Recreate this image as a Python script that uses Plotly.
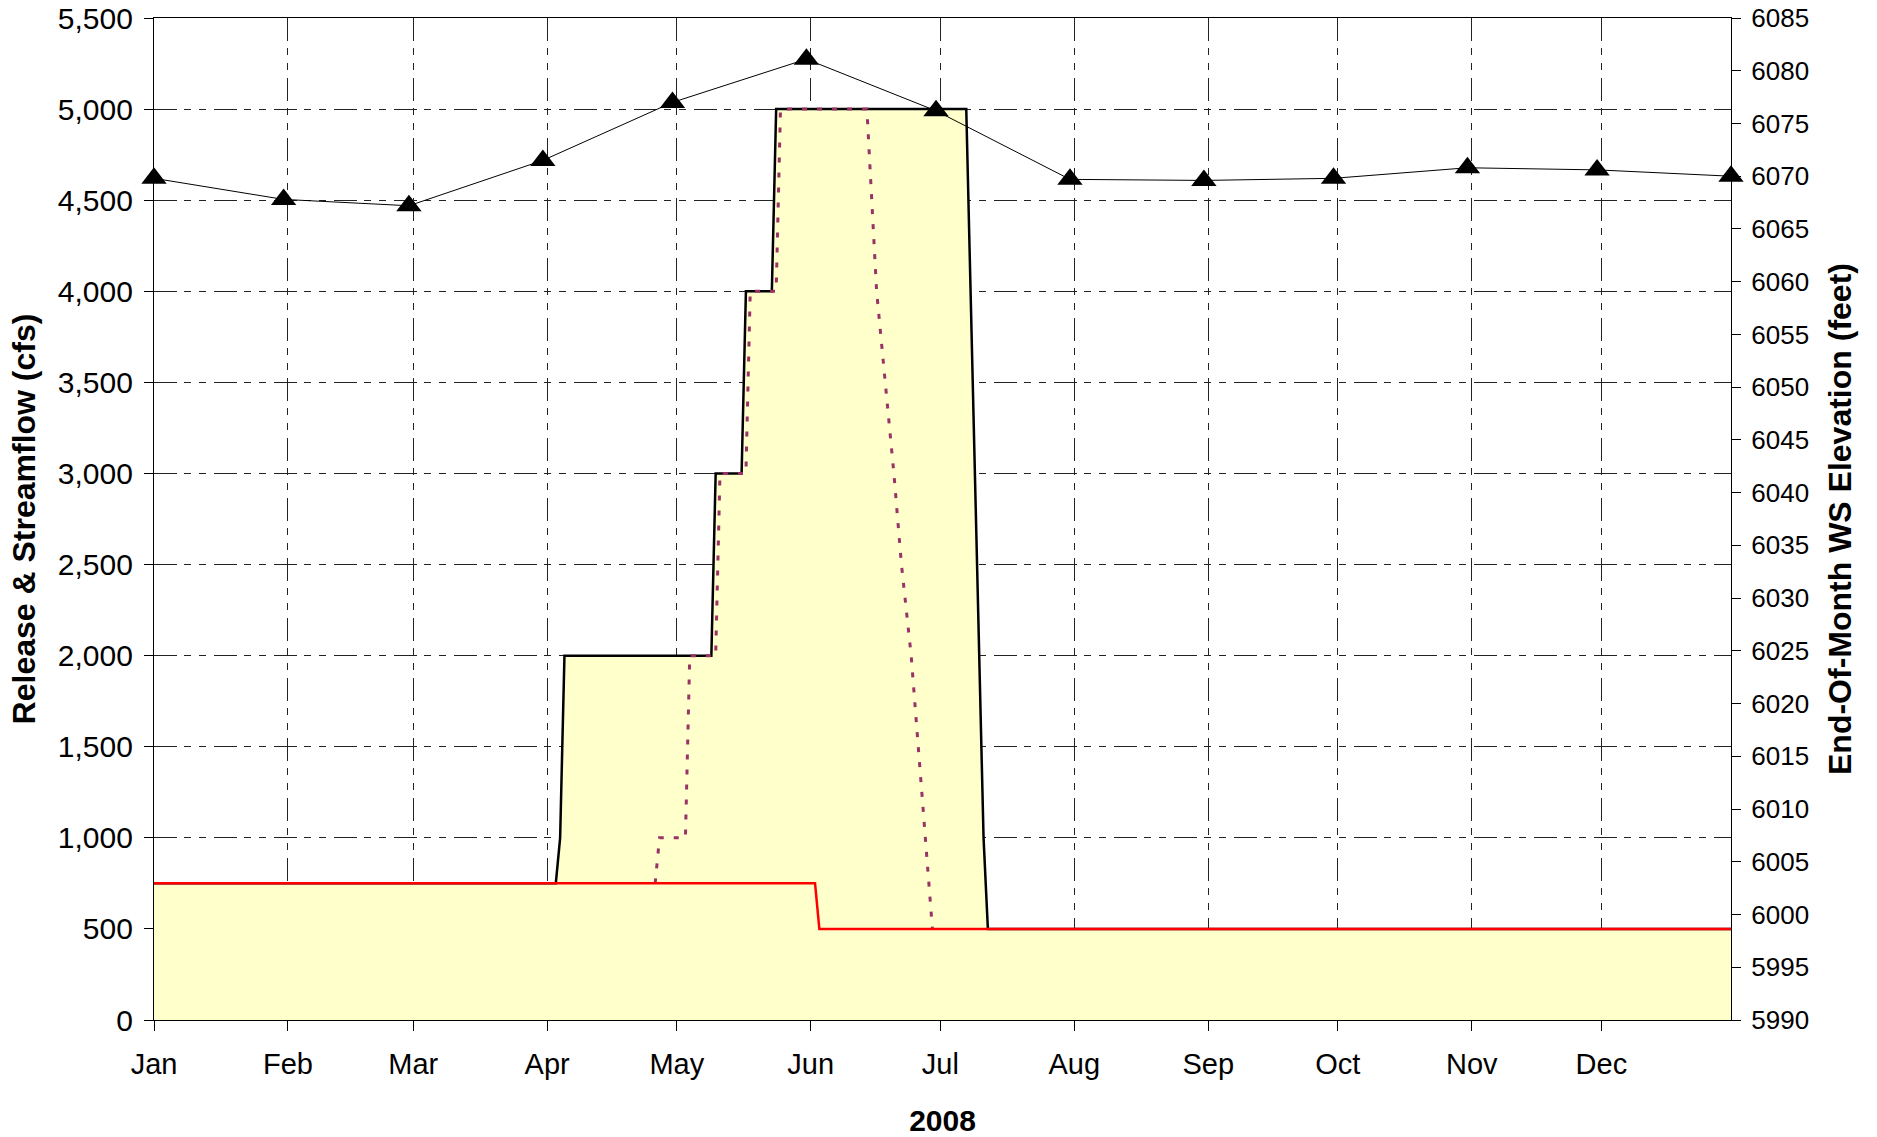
import plotly.graph_objects as go

# ---------------- data ----------------
month_starts = ["2008-01-01", "2008-02-01", "2008-03-01", "2008-04-01", "2008-05-01", "2008-06-01",
                "2008-07-01", "2008-08-01", "2008-09-01", "2008-10-01", "2008-11-01", "2008-12-01"]
month_labels = ["Jan", "Feb", "Mar", "Apr", "May", "Jun", "Jul", "Aug", "Sep", "Oct", "Nov", "Dec"]

release_dates = ["2008-01-01", "2008-04-03", "2008-04-04", "2008-04-05", "2008-05-09", "2008-05-10",
                 "2008-05-16", "2008-05-17", "2008-05-23", "2008-05-24", "2008-07-07", "2008-07-11",
                 "2008-07-12", "2008-12-31"]
release_cfs = [750, 750, 1000, 2000, 2000, 3000, 3000, 4000, 4000, 5000, 5000, 1000, 500, 500]

streamflow_dates = ["2008-04-26", "2008-04-27", "2008-05-03", "2008-05-04", "2008-05-10",
                    "2008-05-11", "2008-05-17", "2008-05-18", "2008-05-24", "2008-05-25", "2008-06-14",
                    "2008-06-16 06:00", "2008-06-20 06:00", "2008-06-22 00:00", "2008-06-24 06:00",
                    "2008-06-25 20:00", "2008-06-27 10:00", "2008-06-29 04:00"]
streamflow_cfs = [750, 1000, 1000, 2000, 2000, 3000, 3000, 4000, 4000, 5000, 5000,
                  4000, 3000, 2500, 2000, 1500, 1000, 500]

min_flow_dates = ["2008-01-01", "2008-06-02", "2008-06-03", "2008-12-31"]
min_flow_cfs = [750, 750, 500, 500]

eom_dates = ["2008-01-01", "2008-01-31", "2008-02-29", "2008-03-31", "2008-04-30", "2008-05-31",
             "2008-06-30", "2008-07-31", "2008-08-31", "2008-09-30", "2008-10-31", "2008-11-30",
             "2008-12-31"]
eom_elev_ft = [6069.8, 6067.8, 6067.2, 6071.5, 6077.0, 6081.1, 6076.2, 6069.7, 6069.6, 6069.8,
               6070.8, 6070.6, 6070.0]

# ---------------- styling ----------------
FONT = "Liberation Sans, Arial, Helvetica, sans-serif"
GRID_DASH = "23px,7px,7px,8px,7px,8px"

fig = go.Figure()

fig.add_trace(go.Scatter(
    x=release_dates, y=release_cfs, mode="lines", name="Release",
    line=dict(color="black", width=2.5), fill="tozeroy", fillcolor="#FFFFCC",
    yaxis="y"))

fig.add_trace(go.Scatter(
    x=streamflow_dates, y=streamflow_cfs, mode="lines", name="Streamflow",
    line=dict(color="#993366", width=3, dash="5px,10px"), yaxis="y"))

fig.add_trace(go.Scatter(
    x=min_flow_dates, y=min_flow_cfs, mode="lines", name="Minimum",
    line=dict(color="#FF0000", width=2.5), yaxis="y"))

fig.add_trace(go.Scatter(
    x=eom_dates, y=eom_elev_ft, mode="lines+markers", name="EOM Elevation",
    line=dict(color="black", width=1),
    marker=dict(symbol="triangle-up", size=22, color="black"),
    yaxis="y2", cliponaxis=False))

fig.update_layout(
    width=1877, height=1137,
    margin=dict(l=154, r=146, t=18, b=117, autoexpand=False),
    paper_bgcolor="white", plot_bgcolor="white",
    showlegend=False,
    font=dict(family=FONT, color="black"),
    xaxis=dict(
        type="date", range=["2008-01-01", "2008-12-31"], automargin=False,
        tickmode="array", tickvals=month_starts, ticktext=month_labels,
        ticks="outside", ticklen=10, tickcolor="black", tickwidth=1,
        tickfont=dict(size=29, family=FONT), ticklabelstandoff=8,
        showline=True, linecolor="black", linewidth=1.3, mirror=True,
        showgrid=True, gridcolor="#222222", gridwidth=1, griddash=GRID_DASH,
        zeroline=False,
        title=dict(text="<b>2008</b>", font=dict(size=30, family=FONT), standoff=32),
    ),
    yaxis=dict(
        range=[0, 5500], dtick=500, tickformat=",d", automargin=False,
        ticks="outside", ticklen=9, tickcolor="black", tickwidth=1,
        tickfont=dict(size=30, family=FONT), ticklabelstandoff=5,
        ticklabeloverflow="allow",
        showline=True, linecolor="black", linewidth=1.3,
        showgrid=True, gridcolor="#222222", gridwidth=1, griddash=GRID_DASH,
        zeroline=False,
        title=dict(text="<b>Release &amp; Streamflow (cfs)</b>", font=dict(size=32, family=FONT), standoff=12),
    ),
    yaxis2=dict(
        range=[5990, 6085], dtick=5, tickformat="d", automargin=False,
        overlaying="y", side="right", anchor="x",
        ticks="outside", ticklen=9, tickcolor="black", tickwidth=1,
        tickfont=dict(size=26, family=FONT), ticklabelstandoff=5,
        ticklabeloverflow="allow",
        showline=True, linecolor="black", linewidth=1.3,
        showgrid=False, zeroline=False,
        title=dict(text="<b>End-Of-Month WS Elevation (feet)</b>", font=dict(size=32, family=FONT), standoff=20),
    ),
    yaxis3=dict(
        range=[5990, 6085], dtick=5, automargin=False,
        overlaying="y", side="right", anchor="x",
        ticks="inside", ticklen=9, tickcolor="black", tickwidth=1,
        showticklabels=False, showline=False, showgrid=False, zeroline=False,
    ),
)

# remove the page's default 8px body margin so the figure fills the window exactly
fig.write_html("out.html", config={"displayModeBar": False},
               post_script="document.body.style.margin='0px';")
